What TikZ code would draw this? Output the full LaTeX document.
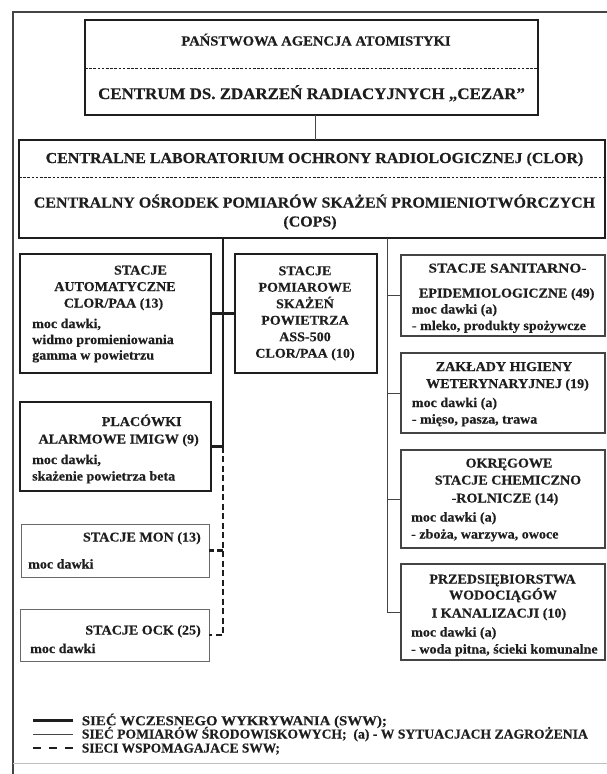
\documentclass[tikz,border=0pt]{standalone}
\usepackage{fontspec}
\usepackage{graphicx}
\setmainfont{Liberation Serif}[FakeStretch=1.05, BoldFeatures={FakeBold=0.4}]
\usetikzlibrary{calc}
\definecolor{ink}{HTML}{1E1E1E}
\definecolor{thinink}{HTML}{444444}
\tikzset{
  boxthick/.style={draw=ink, line width=2.7pt, inner sep=0pt, outer sep=0pt},
  boxmid/.style={draw=ink, line width=1.6pt, inner sep=0pt, outer sep=0pt},
  boxthin/.style={draw=thinink, line width=1.3pt, inner sep=0pt, outer sep=0pt},
  boxfaint/.style={draw=thinink!80, line width=1.0pt, inner sep=0pt, outer sep=0pt},
  sepline/.style={draw=ink, line width=0.8pt, dash pattern=on 2.6pt off 1.6pt},
  sww/.style={draw=ink, line width=2.6pt},
  envline/.style={draw=thinink, line width=1.0pt},
  aux/.style={draw=ink, line width=2.2pt, dash pattern=on 6pt off 3.5pt},
  txt/.style={inner sep=0pt, text=ink, font=\bfseries\fontsize{13.4}{16}\selectfont},
  hdA/.style={inner sep=0pt, text=ink, font=\bfseries\fontsize{13.9}{16}\selectfont},
  hdB/.style={inner sep=0pt, text=ink, font=\bfseries\fontsize{16.1}{18}\selectfont},
  hdC/.style={inner sep=0pt, text=ink, font=\bfseries\fontsize{15.2}{18}\selectfont},
  legtxt/.style={inner sep=0pt, text=ink, font=\bfseries\fontsize{13.6}{16}\selectfont},
}
\begin{document}
\begin{tikzpicture}[x=1pt,y=-1pt]
\useasboundingbox (0,0) rectangle (607,774);
% outer frame
\draw[thinink, line width=1.2pt] (13,774) -- (13,12) -- (607,12);
\draw[black!25, line width=0.8pt] (13,763) -- (607,763);

% boxes
\node[boxthick, minimum width=453pt, minimum height=95pt] (top) at (311.5,67.5) {};
\node[boxmid, minimum width=586pt, minimum height=98pt] (mid) at (312,189) {};
\node[boxthick, minimum width=191pt, minimum height=119pt] (auto) at (115.5,313.5) {};
\node[boxthick, minimum width=142pt, minimum height=119pt] (ass) at (306,313.5) {};
\node[boxthick, minimum width=191pt, minimum height=89pt] (plac) at (115.5,446.5) {};
\node[boxfaint, minimum width=188pt, minimum height=53pt] (mon) at (115,550.5) {};
\node[boxfaint, minimum width=189pt, minimum height=52pt] (ock) at (114.5,635) {};
\node[boxthin, minimum width=204pt, minimum height=81pt] (sanep) at (503,295.5) {};
\node[boxthin, minimum width=204pt, minimum height=80pt] (zhw) at (503,393) {};
\node[boxthin, minimum width=204pt, minimum height=98pt] (oscr) at (503,499) {};
\node[boxthin, minimum width=204pt, minimum height=96pt] (pwik) at (503,612) {};

% separators
\coordinate (sepA) at (0,68);
\coordinate (sepB) at (0,177);
\draw[sepline] (top.west |- sepA) -- (top.east |- sepA);
\draw[sepline] (mid.west |- sepB) -- (mid.east |- sepB);

% connectors
\coordinate (tx) at (315,0);
\coordinate (spx) at (223,0);
\coordinate (rx) at (387,0);
\draw[envline] (top.south -| tx) -- (mid.north -| tx);
\draw[sww] (mid.south -| spx) -- (plac.east -| spx) -- (plac.east);
\draw[sww] (auto.east) -- (ass.west);
\draw[aux] (plac.east -| spx) -- (ock.east -| spx) -- (ock.east);
\draw[aux] (mon.east -| spx) -- (mon.east);
\draw[envline] (mid.south -| rx) -- (pwik.west -| rx) -- (pwik.west);
\draw[envline] (sanep.west -| rx) -- (sanep.west);
\draw[envline] (zhw.west -| rx) -- (zhw.west);
\draw[envline] (oscr.west -| rx) -- (oscr.west);

% top box texts
\node[hdA, anchor=base] (t1) at (316,45.5) {PAŃSTWOWA AGENCJA ATOMISTYKI};
\node[hdB, anchor=base] (t2) at (311.6,99) {CENTRUM DS. ZDARZEŃ RADIACYJNYCH „CEZAR”};
% mid box texts
\node[hdC, anchor=base] (m1) at (314.5,163) {CENTRALNE LABORATORIUM OCHRONY RADIOLOGICZNEJ (CLOR)};
\node[hdC, anchor=base] (m2) at (314.5,207.5) {CENTRALNY OŚRODEK POMIARÓW SKAŻEŃ PROMIENIOTWÓRCZYCH};
\node[hdC, anchor=base] (m3) at (310,226.5) {(COPS)};

% auto
\node[txt, anchor=base] (a1) at (140.5,274.5) {STACJE};
\node[txt, anchor=base] (a2) at (115,291) {AUTOMATYCZNE};
\node[txt, anchor=base] (a3) at (113.5,307.5) {CLOR/PAA (13)};
\node[txt, anchor=base west] (a4) at (32,328) {moc dawki,};
\node[txt, anchor=base west] (a5) at (32,344) {widmo promieniowania};
\node[txt, anchor=base west] (a6) at (32,359.5) {gamma w powietrzu};

% ass
\node[txt, anchor=base] (s1) at (305,275.2) {STACJE};
\node[txt, anchor=base] (s2) at (305,291.7) {POMIAROWE};
\node[txt, anchor=base] (s3) at (305,308.2) {SKAŻEŃ};
\node[txt, anchor=base] (s4) at (305,324.7) {POWIETRZA};
\node[txt, anchor=base] (s5) at (305,341.2) {ASS-500};
\node[txt, anchor=base] (s6) at (305,357.7) {CLOR/PAA (10)};

% plac
\node[txt, anchor=base] (p1) at (141.7,426) {PLACÓWKI};
\node[txt, anchor=base] (p2) at (118.7,443.5) {ALARMOWE IMIGW (9)};
\node[txt, anchor=base west] (p3) at (32,464) {moc dawki,};
\node[txt, anchor=base west] (p4) at (32,480.5) {skażenie powietrza beta};

% mon
\node[txt, anchor=base east] (n1) at (201,541.5) {STACJE MON (13)};
\node[txt, anchor=base west] (n2) at (28,568.5) {moc dawki};
% ock
\node[txt, anchor=base east] (o1) at (201,634.5) {STACJE OCK (25)};
\node[txt, anchor=base west] (o2) at (30,653) {moc dawki};

% sanep
\node[txt, anchor=base] (e1) at (507.5,272.5) {\resizebox{158pt}{\height}{STACJE SANITARNO-}};
\node[txt, anchor=base] (e2) at (506.7,297.5) {EPIDEMIOLOGICZNE (49)};
\node[txt, anchor=base west] (e3) at (411.7,313.5) {moc dawki (a)};
\node[txt, anchor=base west] (e4) at (411.7,330) {- mleko, produkty spożywcze};
% zhw
\node[txt, anchor=base] (z1) at (504,371) {ZAKŁADY HIGIENY};
\node[txt, anchor=base] (z2) at (507.5,388) {WETERYNARYJNEJ (19)};
\node[txt, anchor=base west] (z3) at (411.7,407) {moc dawki (a)};
\node[txt, anchor=base west] (z4) at (411.7,423.5) {- mięso, pasza, trawa};
% oscr
\node[txt, anchor=base] (c1) at (509,467.5) {OKRĘGOWE};
\node[txt, anchor=base] (c2) at (508,484.5) {STACJE CHEMICZNO};
\node[txt, anchor=base] (c3) at (505,502.5) {-ROLNICZE (14)};
\node[txt, anchor=base west] (c4) at (411,521.5) {moc dawki (a)};
\node[txt, anchor=base west] (c5) at (411,538.5) {- zboża, warzywa, owoce};
% pwik
\node[txt, anchor=base] (w1) at (502.5,583.5) {PRZEDSIĘBIORSTWA};
\node[txt, anchor=base] (w2) at (503,599.5) {WODOCIĄGÓW};
\node[txt, anchor=base] (w3) at (499,617.5) {I KANALIZACJI (10)};
\node[txt, anchor=base west] (w4) at (411,636.5) {moc dawki (a)};
\node[txt, anchor=base west] (w5) at (411,653.5) {- woda pitna, ścieki komunalne};

% legend
\coordinate (L1a) at (33,720.7); \coordinate (L1b) at (73,720.7);
\coordinate (L2a) at (33,734); \coordinate (L2b) at (73,734);
\coordinate (L3a) at (33,748); \coordinate (L3b) at (73,748);
\draw[sww] (L1a) -- (L1b);
\draw[thinink, line width=0.6pt] (L2a) -- (L2b);
\draw[ink, line width=1.6pt, dash pattern=on 8pt off 8pt] (L3a) -- (L3b);
\node[legtxt, anchor=base west] (g1) at (81.7,725.2) {\resizebox{305pt}{\height}{SIEĆ WCZESNEGO WYKRYWANIA (SWW);}};
\node[legtxt, anchor=base west] (g2) at (81.7,738.5) {\resizebox{506pt}{\height}{SIEĆ POMIARÓW ŚRODOWISKOWYCH;\ \ (a) - W SYTUACJACH ZAGROŻENIA}};
\node[legtxt, anchor=base west] (g3) at (81.7,752.5) {\resizebox{198pt}{\height}{SIECI WSPOMAGAJACE SWW;}};
\end{tikzpicture}
\end{document}
